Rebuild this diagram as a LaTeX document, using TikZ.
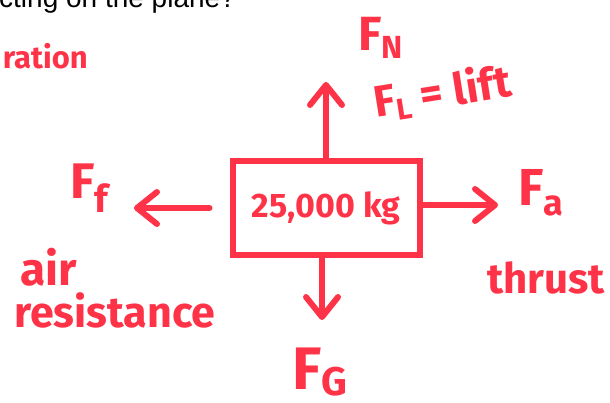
\documentclass[tikz,border=0pt]{standalone}
\usepackage{fontspec}
\setmainfont{Liberation Sans}
\newfontfamily\hand{Fira Sans}
\usetikzlibrary{arrows.meta}
\definecolor{ink}{RGB}{255,51,71}
\tikzset{
  hw/.style={text=ink, inner sep=0pt},
  arr/.style={draw=ink, line width=6pt, line cap=round,
    -{Straight Barb[length=20pt,width=32pt,round]}},
}
\newcommand{\fs}[1]{\fontsize{#1}{#1}\selectfont}
\begin{document}
\begin{tikzpicture}[x=1pt,y=-1pt]
\useasboundingbox (0,0) rectangle (610,402);
\clip (0,0) rectangle (610,402);
% black question text (cut at top)
\node[anchor=base west, inner sep=0pt, font=\fs{28}] (q) at (-1,7) {cting on the plane?};
% cut red word
\node[hw, anchor=base east, font=\hand\bfseries\fs{31}] (acc) at (88,68) {ration};
% box
\node[draw=ink, line width=6pt, minimum width=187pt, minimum height=94pt,
      inner sep=0pt, text=ink, font=\hand\bfseries\fs{34}] (box) at (326,208) {25,000 kg};
% arrow end points
\coordinate (tipN) at (326,82);
\coordinate (tipW) at (134,208);
\coordinate (tipE) at (498,205);
\coordinate (tipS) at (322,320);
\draw[arr] (box.north) -- (tipN);
\draw[arr, shorten <=20pt] (box.west) -- (tipW);
\draw[arr] (box.east |- tipE) -- (tipE);
\draw[arr] (box.south -| tipS) -- (tipS);
% labels
\node[hw, anchor=base west, font=\hand\bfseries\fs{48}] (fn) at (358,50)
  {F\raisebox{-8pt}{\fs{32}N}};
\node[hw, anchor=base west, font=\hand\bfseries\fs{44}, rotate=9] (fl) at (376,118)
  {F\raisebox{-6pt}{\fs{30}L} = lift};
\node[hw, anchor=base west, font=\hand\bfseries\fs{50}] (ff) at (70,198)
  {F\raisebox{-14pt}{\fs{38}f}};
\node[hw, anchor=base west, font=\hand\bfseries\fs{52}] (fa) at (518,205)
  {F\raisebox{-10pt}{\fs{36}a}};
\node[hw, anchor=base west, font=\hand\bfseries\fs{60}] (fg) at (292,389)
  {F\raisebox{-6pt}{\fs{40}G}};
\node[hw, anchor=base west, font=\hand\bfseries\fs{46}] (air) at (20,285) {air};
\node[hw, anchor=base west, font=\hand\bfseries\fs{43}] (res) at (14,327) {resistance};
\node[hw, anchor=base west, font=\hand\bfseries\fs{42}] (thr) at (487,293) {thrust};
\end{tikzpicture}
\end{document}
